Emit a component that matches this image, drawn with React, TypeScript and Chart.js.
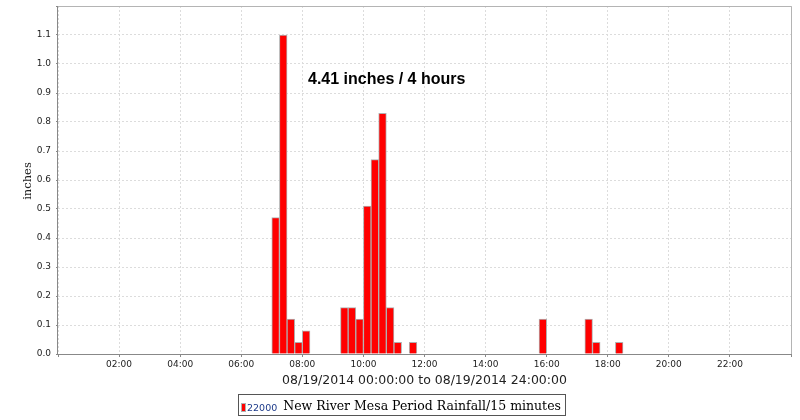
import React, { useEffect, useRef } from "react";
import { Chart, registerables } from "chart.js";

Chart.register(...registerables);

// ---- data ----
const intervalStarts = [
  "07:00", "07:15", "07:30", "07:45", "08:00",
  "09:15", "09:30", "09:45", "10:00", "10:15", "10:30", "10:45", "11:00", "11:30",
  "15:45", "17:15", "17:30", "18:15",
];
const rainfallInches = [
  0.47, 1.10, 0.12, 0.04, 0.08,
  0.16, 0.16, 0.12, 0.51, 0.67, 0.83, 0.16, 0.04, 0.04,
  0.12, 0.12, 0.04, 0.04,
];
const xTickHours = [0, 2, 4, 6, 8, 10, 12, 14, 16, 18, 20, 22, 24];
const yTickValues = [0, 0.1, 0.2, 0.3, 0.4, 0.5, 0.6, 0.7, 0.8, 0.9, 1.0, 1.1, 1.2];
const seriesId = "22000";
const seriesName = "New River Mesa Period Rainfall/15 minutes";
const yTitle = "inches";
const xTitle = "08/19/2014 00:00:00 to 08/19/2014 24:00:00";
const annotationText = "4.41 inches / 4 hours";
const intervalHours = 0.25;

const toHours = (s: string) => {
  const [h, m] = s.split(":").map(Number);
  return h + m / 60;
};
const pad2 = (n: number) => (n < 10 ? "0" + n : "" + n);

export default function App() {
  const ref = useRef<HTMLCanvasElement | null>(null);

  useEffect(() => {
    const canvas = ref.current;
    if (!canvas) return;

    const points = intervalStarts.map((t, i) => ({
      x: toHours(t) + intervalHours / 2,
      y: rainfallInches[i],
    }));

    const decor = {
      id: "decor",
      afterDatasetsDraw(chart: any) {
        const { ctx, chartArea: a } = chart;
        ctx.save();
        ctx.lineWidth = 1;
        ctx.strokeStyle = "#b4b4b4";
        ctx.beginPath();
        ctx.moveTo(a.left, a.top + 0.5);
        ctx.lineTo(a.right + 0.5, a.top + 0.5);
        ctx.lineTo(a.right + 0.5, a.bottom);
        ctx.stroke();
        ctx.strokeStyle = "#888888";
        ctx.beginPath();
        ctx.moveTo(a.left - 0.5, a.top);
        ctx.lineTo(a.left - 0.5, a.bottom + 0.5);
        ctx.lineTo(a.right + 1, a.bottom + 0.5);
        ctx.stroke();
        ctx.restore();
      },
      afterDraw(chart: any) {
        const { ctx, chartArea: a } = chart;
        ctx.save();
        // annotation
        ctx.fillStyle = "#000";
        ctx.font = "bold 16px 'Liberation Sans', Arial, sans-serif";
        ctx.textAlign = "left";
        ctx.textBaseline = "alphabetic";
        ctx.fillText(annotationText, a.left + 250, 84);

        // y title
        ctx.save();
        ctx.translate(28, 181);
        ctx.rotate(-Math.PI / 2);
        ctx.font = "11.5px 'DejaVu Serif', serif";
        ctx.textAlign = "center";
        ctx.textBaseline = "middle";
        ctx.fillStyle = "#222";
        ctx.fillText(yTitle, 0, 0);
        ctx.restore();

        // x title
        ctx.font = "12.5px 'DejaVu Sans', sans-serif";
        ctx.textAlign = "center";
        ctx.textBaseline = "alphabetic";
        ctx.fillStyle = "#222";
        ctx.fillText(xTitle, (a.left + a.right) / 2, 384);

        // legend
        const idFont = "9.5px 'DejaVu Sans', sans-serif";
        const nameFont = "12.5px 'DejaVu Serif', serif";
        ctx.font = idFont;
        const wId = ctx.measureText(seriesId).width;
        ctx.font = nameFont;
        const wName = ctx.measureText(seriesName).width;
        const boxW = 3 + 5 + 1 + wId + 6 + wName + 4;
        const bx = Math.round(401 - boxW / 2);
        const by = 394;
        ctx.strokeStyle = "#555";
        ctx.lineWidth = 1;
        ctx.strokeRect(bx + 0.5, by + 0.5, Math.round(boxW), 21);
        ctx.fillStyle = "#ff0000";
        ctx.fillRect(bx + 3, by + 9, 5, 9);
        ctx.strokeStyle = "#b0b0b0";
        ctx.strokeRect(bx + 3.5, by + 9.5, 4, 8);
        ctx.font = idFont;
        ctx.fillStyle = "#1c3a8a";
        ctx.textAlign = "left";
        ctx.fillText(seriesId, bx + 9, by + 17);
        ctx.font = nameFont;
        ctx.fillStyle = "#000";
        ctx.fillText(seriesName, bx + 9 + wId + 6, by + 16);
        ctx.restore();
      },
    };

    const chart = new Chart(canvas, {
      type: "bar",
      data: {
        datasets: [
          {
            label: seriesName,
            data: points as any,
            backgroundColor: "#ff0000",
            borderColor: "#b0b0b0",
            borderWidth: 1,
            categoryPercentage: 1,
            barPercentage: 1,
          },
        ],
      },
      options: {
        responsive: false,
        animation: false,
        devicePixelRatio: 1,
        layout: { padding: { left: 0, right: 9, top: 6, bottom: 46 } },
        plugins: {
          legend: { display: false },
          tooltip: { enabled: false },
          title: { display: false },
        },
        scales: {
          x: {
            type: "linear",
            min: 0,
            max: 24,
            offset: false,
            afterBuildTicks: (s: any) => {
              s.ticks = xTickHours.map((v) => ({ value: v }));
            },
            afterFit: (s: any) => {
              s.height = 20;
              s.paddingLeft = 0;
              s.paddingRight = 0;
            },
            ticks: {
              autoSkip: false,
              maxRotation: 0,
              padding: 2,
              color: "#222",
              font: { family: "'DejaVu Sans', sans-serif", size: 9 },
              callback: (v: any) =>
                v === 0 || v === 24 ? "" : pad2(Number(v)) + ":00",
            },
            grid: {
              offset: false,
              color: "#dcdcdc",
              tickColor: "#888",
              tickLength: 3,
            },
            border: { display: false, dash: [2, 2] },
          },
          y: {
            type: "linear",
            min: 0,
            max: 1.2,
            afterBuildTicks: (s: any) => {
              s.ticks = yTickValues.map((v) => ({ value: v }));
            },
            afterFit: (s: any) => {
              s.width = 58;
              s.paddingTop = 0;
              s.paddingBottom = 0;
            },
            ticks: {
              autoSkip: false,
              padding: 5,
              color: "#222",
              font: { family: "'DejaVu Sans', sans-serif", size: 9 },
              callback: (v: any) =>
                Math.abs(Number(v) - 1.2) < 1e-6 ? "" : Number(v).toFixed(1),
            },
            grid: {
              color: "#dcdcdc",
              tickColor: "#888",
              tickLength: 2,
            },
            border: { display: false, dash: [2, 2] },
          },
        },
      },
      plugins: [decor],
    });

    return () => chart.destroy();
  }, []);

  return (
    <div style={{ position: "fixed", left: 0, top: 0, width: 800, height: 420, background: "#fff" }}>
      <canvas ref={ref} width={800} height={420} style={{ display: "block" }} />
    </div>
  );
}
